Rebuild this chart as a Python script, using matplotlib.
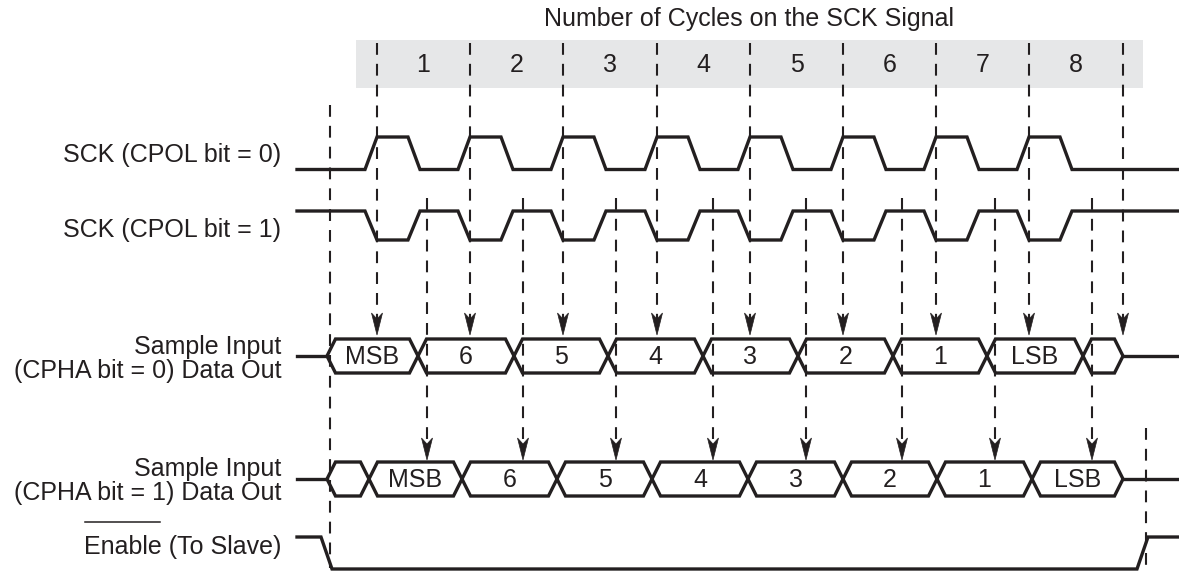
import matplotlib
matplotlib.use('Agg')
import matplotlib.pyplot as plt
from matplotlib.patches import Polygon, Rectangle

plt.rcParams['font.family'] = ['Liberation Sans', 'DejaVu Sans']
plt.rcParams['lines.scale_dashes'] = False

# --- data (x positions in pixels of the original diagram) ---
title = 'Number of Cycles on the SCK Signal'
cycle_labels = ['1', '2', '3', '4', '5', '6', '7', '8']
cycle_edges = [377, 470, 563, 657, 750, 843, 936, 1029, 1123]   # first SCK edge of each cycle
second_edges = [427, 523, 616, 713, 806, 902, 995, 1092]         # sampling points for CPHA = 1

cpha0_bounds = [327, 418, 514, 608, 703, 798, 893, 987, 1083, 1123]
cpha0_bits = ['MSB', '6', '5', '4', '3', '2', '1', 'LSB', '']
cpha1_bounds = [327, 369, 462, 557, 652, 748, 843, 937, 1032, 1123]
cpha1_bits = ['', 'MSB', '6', '5', '4', '3', '2', '1', 'LSB']

enable_fall = 321
enable_rise = 1137
ss_start = 330
ss_end = 1146

row_labels = ['SCK (CPOL bit = 0)', 'SCK (CPOL bit = 1)',
              'Sample Input\n(CPHA bit = 0) Data Out',
              'Sample Input\n(CPHA bit = 1) Data Out',
              'Enable (To Slave)']

# --- layout ---
W, H = 1179, 571
X0, X1 = 297, 1179
ink = '#231f20'
lw_sig = 2.4
lw_dash = 1.5
dash = (0, (8.5, 6.5))
fs = 18

fig = plt.figure(figsize=(W / 100, H / 100), dpi=100)
ax = fig.add_axes([0, 0, 1, 1])
ax.set_xlim(0, W)
ax.set_ylim(H, 0)
ax.axis('off')

# gray band with cycle numbers
ax.add_patch(Rectangle((356, 40), 1143 - 356, 48, color='#e6e7e8', lw=0, zorder=0))
ax.text(749, 19, title, ha='center', va='center', fontsize=fs, color=ink)
for i, lab in enumerate(cycle_labels):
    ax.text((cycle_edges[i] + cycle_edges[i + 1]) / 2, 65, lab,
            ha='center', va='center', fontsize=fs, color=ink)


def sck(low, high, edges, x0, x1, rise=12, width=31):
    xs, ys = [x0], [low]
    for b in edges:
        xs += [b - rise, b, b + width, b + width + rise]
        ys += [low, high, high, low]
    xs.append(x1)
    ys.append(low)
    return xs, ys


# SCK signals
xs, ys = sck(169.5, 137, cycle_edges[:8], X0, X1)
ax.plot(xs, ys, color=ink, lw=lw_sig, solid_joinstyle='miter')
xs, ys = sck(211, 240, cycle_edges[:8], X0, X1)
ax.plot(xs, ys, color=ink, lw=lw_sig, solid_joinstyle='miter')


def bus(yc, bounds, bits, h=17, s=8.5):
    ax.plot([X0, bounds[0]], [yc, yc], color=ink, lw=lw_sig)
    ax.plot([bounds[-1], X1], [yc, yc], color=ink, lw=lw_sig)
    for a, b, t in zip(bounds[:-1], bounds[1:], bits):
        pts = [(a, yc), (a + s, yc - h), (b - s, yc - h), (b, yc),
               (b - s, yc + h), (a + s, yc + h)]
        ax.add_patch(Polygon(pts, closed=True, fill=False, ec=ink, lw=lw_sig,
                             joinstyle='miter', zorder=3))
        if t:
            ax.text((a + b) / 2, yc + 1, t, ha='center', va='center',
                    fontsize=fs, color=ink)


bus(356, cpha0_bounds, cpha0_bits)
bus(479, cpha1_bounds, cpha1_bits)

# Enable (to slave)
ax.plot([X0, enable_fall, enable_fall + 11, enable_rise, enable_rise + 11, X1],
        [537, 537, 569, 569, 537, 537], color=ink, lw=lw_sig, solid_joinstyle='miter')


def arrow_head(x, y, length=22, half=5.5, notch=6):
    ax.add_patch(Polygon([(x, y), (x - half, y - length), (x, y - length + notch),
                          (x + half, y - length)], closed=True, fc=ink, ec=ink,
                         lw=0.5, zorder=4))


# dashed guide lines with arrows
for x in cycle_edges:
    ax.plot([x, x], [43, 320], color=ink, lw=lw_dash, linestyle=dash)
    arrow_head(x, 335)
for x in second_edges:
    ax.plot([x, x], [198, 445], color=ink, lw=lw_dash, linestyle=dash)
    arrow_head(x, 460)
ax.plot([ss_start, ss_start], [105, 568], color=ink, lw=lw_dash, linestyle=dash)
ax.plot([ss_end, ss_end], [428, 571], color=ink, lw=lw_dash, linestyle=dash)

# row labels
label_y = [155, 230, 359, 481, 547]
texts = []
for lab, y in zip(row_labels, label_y):
    texts.append(ax.text(281, y, lab, ha='right', va='center', fontsize=fs,
                         color=ink, multialignment='right', linespacing=0.95))

# overline above "Enable" (active-low signal)
fig.canvas.draw()
r = fig.canvas.get_renderer()
full = texts[-1].get_window_extent(r)
probe = ax.text(0, 0, 'Enable', fontsize=fs)
w = probe.get_window_extent(r).width
probe.remove()
inv = ax.transData.inverted()
(xl, _), (xr, _) = inv.transform([(full.x0 + 1, 0), (full.x0 + w - 1, 0)])
ax.plot([xl, xr], [522, 522], color=ink, lw=1.1)

fig.savefig('out.png', dpi=100)
